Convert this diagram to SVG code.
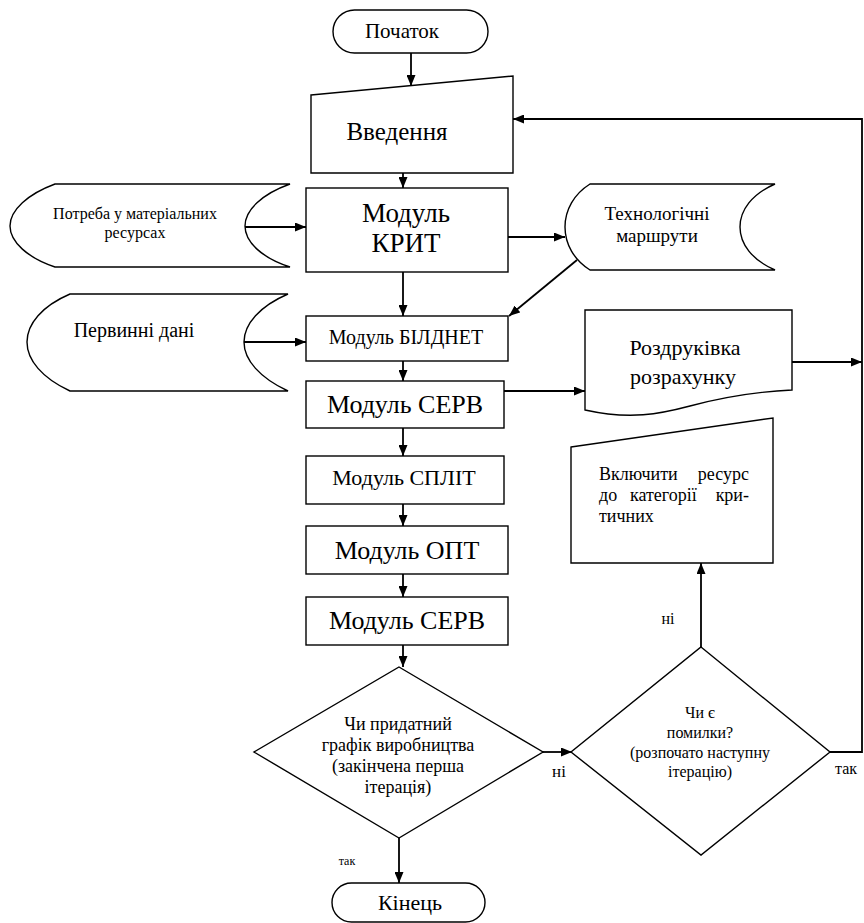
<svg xmlns="http://www.w3.org/2000/svg" width="864" height="923" viewBox="0 0 864 923">
<defs>
<marker id="ah" markerUnits="userSpaceOnUse" markerWidth="11" markerHeight="9" refX="11" refY="4.5" orient="auto">
<path d="M0,0 L11,4.5 L0,9 z" fill="#000"/>
</marker>
<style>
.s{fill:#fff;stroke:#000;stroke-width:1.4}
.c{fill:none;stroke:#000;stroke-width:1.8;marker-end:url(#ah)}
.m{text-anchor:middle}
</style>
</defs>
<rect width="864" height="923" fill="#fff"/>
<g font-family="Liberation Serif">

<g id="start">
<rect class="s" x="333" y="10" width="155" height="43" rx="21.5"/>
<text class="m" x="402" y="38" font-size="21" font-family="Liberation Serif">Початок</text>
</g>

<g id="input">
<polygon class="s" points="311,95 513,76 513,173 311,173"/>
<text class="m" x="397" y="140" font-size="25" font-family="Liberation Serif">Введення</text>
</g>

<g id="krit">
<rect class="s" x="306" y="188" width="202" height="84"/>
<text class="m" x="406" y="222" font-size="27" font-family="Liberation Serif">Модуль</text>
<text class="m" x="406" y="252" font-size="27" font-family="Liberation Serif">КРИТ</text>
</g>

<g id="store-needs">
<path class="s" d="M55,184 L290,184 C262,194 245,210 245,226 C245,242 262,258 290,267 L55,267 C28,258 10,242 10,226 C10,210 28,194 55,184 Z"/>
<text class="m" x="135" y="219" font-size="16" font-family="Liberation Serif">Потреба у матеріальних</text>
<text class="m" x="135" y="238" font-size="16" font-family="Liberation Serif">ресурсах</text>
</g>

<g id="store-routes">
<path class="s" d="M590,184 L775,184 C752,194 740,210 740,227 C740,244 752,260 775,270 L590,270 C574,260 565,244 565,227 C565,210 574,194 590,184 Z"/>
<text class="m" x="657" y="220" font-size="19" font-family="Liberation Serif">Технологічні</text>
<text class="m" x="657" y="242" font-size="19" font-family="Liberation Serif">маршрути</text>
</g>

<g id="store-primary">
<path class="s" d="M70,294 L288,294 C260,306 244,324 244,342 C244,360 260,378 288,391 L70,391 C42,378 27,360 27,342 C27,324 42,306 70,294 Z"/>
<text class="m" x="134" y="337" font-size="20" font-family="Liberation Serif">Первинні дані</text>
</g>

<g id="bildnet">
<rect class="s" x="306" y="316" width="202" height="45"/>
<text class="m" x="406" y="344" font-size="20" font-family="Liberation Serif">Модуль БІЛДНЕТ</text>
</g>

<g id="serv1">
<rect class="s" x="306" y="381" width="198" height="47"/>
<text class="m" x="405" y="413" font-size="26" font-family="Liberation Serif">Модуль СЕРВ</text>
</g>

<g id="print">
<path class="s" d="M585,310 L792,310 L792,390 C750,392 720,398 690,406 C660,414 630,420 585,410 Z"/>
<text class="m" x="685" y="355" font-size="22" font-family="Liberation Serif">Роздруківка</text>
<text class="m" x="683" y="384" font-size="22" font-family="Liberation Serif">розрахунку</text>
</g>

<g id="split">
<rect class="s" x="306" y="456" width="198" height="48"/>
<text class="m" x="404" y="485" font-size="22" font-family="Liberation Serif">Модуль СПЛІТ</text>
</g>

<g id="opt">
<rect class="s" x="306" y="526" width="202" height="48"/>
<text class="m" x="407" y="559" font-size="26" font-family="Liberation Serif">Модуль ОПТ</text>
</g>

<g id="serv2">
<rect class="s" x="306" y="597" width="202" height="48"/>
<text class="m" x="407" y="629" font-size="26" font-family="Liberation Serif">Модуль СЕРВ</text>
</g>

<g id="include">
<polygon class="s" points="571,447 773,418 773,563 571,563"/>
<text x="599" y="480" font-size="18" font-family="Liberation Serif">Включити</text>
<text x="749" y="480" font-size="18" text-anchor="end" font-family="Liberation Serif">ресурс</text>
<text x="599" y="501" font-size="18" font-family="Liberation Serif">до</text>
<text x="630" y="501" font-size="18" font-family="Liberation Serif">категорії</text>
<text x="749" y="501" font-size="18" text-anchor="end" font-family="Liberation Serif">кри-</text>
<text x="599" y="522" font-size="18" font-family="Liberation Serif">тичних</text>
</g>

<g id="decision1">
<polygon class="s" points="399,667 543,752 399,838 254,752"/>
<text class="m" x="398" y="730" font-size="18" font-family="Liberation Serif">Чи придатний</text>
<text class="m" x="398" y="751" font-size="18" font-family="Liberation Serif">графік виробництва</text>
<text class="m" x="398" y="772" font-size="18" font-family="Liberation Serif">(закінчена перша</text>
<text class="m" x="398" y="793" font-size="18" font-family="Liberation Serif">ітерація)</text>
</g>

<g id="decision2">
<polygon class="s" points="701,647 830,752 701,855 571,752"/>
<text class="m" x="700" y="718" font-size="16" font-family="Liberation Serif">Чи є</text>
<text class="m" x="700" y="738" font-size="16" font-family="Liberation Serif">помилки?</text>
<text class="m" x="700" y="758" font-size="16" font-family="Liberation Serif">(розпочато наступну</text>
<text class="m" x="700" y="777" font-size="16" font-family="Liberation Serif">ітерацію)</text>
</g>

<g id="end">
<rect class="s" x="332" y="883" width="153" height="39" rx="19.5"/>
<text class="m" x="410" y="910" font-size="22" font-family="Liberation Serif">Кінець</text>
</g>

<g id="connectors">
<line class="c" x1="411" y1="53" x2="411" y2="86"/>
<line class="c" x1="403" y1="173" x2="403" y2="188"/>
<line class="c" x1="245" y1="227" x2="306" y2="227"/>
<line class="c" x1="508" y1="237" x2="565" y2="237"/>
<line class="c" x1="403" y1="272" x2="403" y2="316"/>
<line class="c" x1="577" y1="260" x2="509" y2="316"/>
<line class="c" x1="244" y1="342" x2="306" y2="342"/>
<line class="c" x1="403" y1="361" x2="403" y2="381"/>
<line class="c" x1="504" y1="391" x2="585" y2="391"/>
<line class="c" x1="792" y1="362" x2="862" y2="362"/>
<line class="c" x1="403" y1="428" x2="403" y2="456"/>
<line class="c" x1="403" y1="504" x2="403" y2="526"/>
<line class="c" x1="403" y1="574" x2="403" y2="597"/>
<line class="c" x1="403" y1="645" x2="403" y2="667"/>
<line class="c" x1="399" y1="838" x2="399" y2="883"/>
<line class="c" x1="543" y1="752" x2="572" y2="752"/>
<line class="c" x1="701" y1="647" x2="701" y2="563"/>
<polyline class="c" points="830,752 862,752 862,119 513,119"/>
<text class="m" x="347" y="865" font-size="12" font-family="Liberation Serif">так</text>
<text class="m" x="559" y="777" font-size="17" font-family="Liberation Serif">ні</text>
<text class="m" x="668" y="624" font-size="16" font-family="Liberation Serif">ні</text>
<text class="m" x="846" y="774" font-size="16" font-family="Liberation Serif">так</text>
</g>
</g>
</svg>
